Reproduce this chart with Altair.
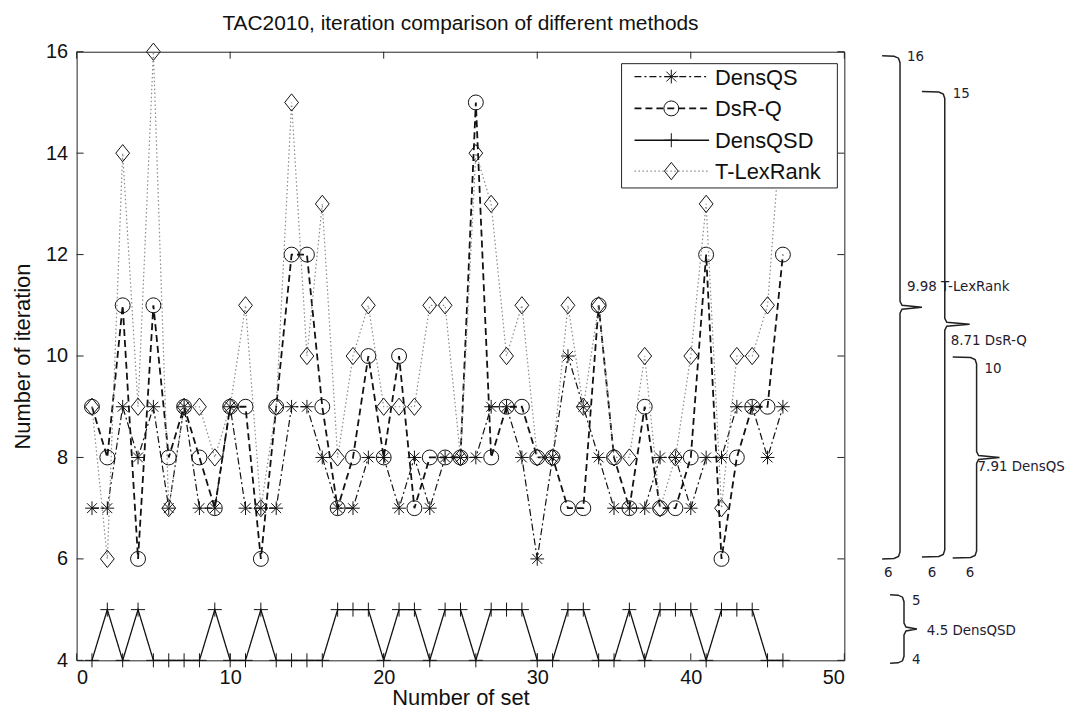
import altair as alt
import pandas as pd

# ---------------- data ----------------
sets = list(range(1, 47))
dens_qs = [7, 7, 9, 8, 9, 7, 9, 7, 7, 9,
           7, 7, 7, 9, 9, 8, 7, 7, 8, 8,
           7, 8, 7, 8, 8, 8, 9, 9, 8, 6,
           8, 10, 9, 8, 7, 7, 7, 8, 8, 7,
           8, 8, 9, 9, 8, 9]
dsr_q = [9, 8, 11, 6, 11, 8, 9, 8, 7, 9,
         9, 6, 9, 12, 12, 9, 7, 8, 10, 8,
         10, 7, 8, 8, 8, 15, 8, 9, 9, 8,
         8, 7, 7, 11, 8, 7, 9, 7, 7, 8,
         12, 6, 8, 9, 9, 12]
dens_qsd = [4, 5, 4, 5, 4, 4, 4, 4, 5, 4,
            4, 5, 4, 4, 4, 4, 5, 5, 5, 4,
            5, 5, 4, 5, 5, 4, 5, 5, 5, 4,
            4, 5, 5, 4, 4, 5, 4, 5, 5, 5,
            4, 5, 5, 5, 4, 4]
t_lexrank = [9, 6, 14, 9, 16, 7, 9, 9, 8, 9,
             11, 7, 9, 15, 10, 13, 8, 10, 11, 9,
             9, 9, 11, 11, 8, 14, 13, 10, 11, 8,
             8, 11, 9, 11, 8, 8, 10, 7, 8, 10,
             13, 7, 10, 10, 11, 15]
series_names = ["DensQS", "DsR-Q", "DensQSD", "T-LexRank"]
series_values = [dens_qs, dsr_q, dens_qsd, t_lexrank]
x_ticks = [0, 10, 20, 30, 40, 50]
y_ticks = [4, 6, 8, 10, 12, 14, 16]

# annotation on the right (text only)
brace_top_labels = ["16", "15", "10", "5"]
brace_mid_labels = ["9.98 T-LexRank", "8.71 DsR-Q", "7.91 DensQS", "4.5 DensQSD"]
brace_bottom_labels = ["6", "6", "6", "4"]

# ---------------- layout / style ----------------
W, H = 772, 612
OX, OY = 77, 50  # page position of the plot origin
FONT = "Liberation Sans"

ASTERISK = "M-1,0L1,0M0,-1L0,1M-0.72,-0.72L0.72,0.72M-0.72,0.72L0.72,-0.72"
PLUS = "M-1,0L1,0M0,-1L0,1"
DIAMOND = "M0,-1L0.8,0L0,1L-0.8,0Z"

styles = {
    "DensQS": dict(dash=[7, 3, 2, 3], width=1.2, color="#111111", shape=ASTERISK, size=190),
    "DsR-Q": dict(dash=[7, 4], width=1.8, color="#111111", shape="circle", size=225),
    "DensQSD": dict(dash=[1, 0], width=1.3, color="#111111", shape=PLUS, size=200),
    "T-LexRank": dict(dash=[1.5, 2.5], width=1.2, color="#8a8a8a", shape=DIAMOND, size=300),
}

xs = alt.Scale(domain=[0, 50], nice=False, zero=False)
ys = alt.Scale(domain=[4, 16], nice=False, zero=False)

x_axis = alt.Axis(values=x_ticks, ticks=False, domain=False, grid=False, format="d",
                  labelFont=FONT, labelFontSize=20, labelColor="#111", labelPadding=7,
                  title="Number of set", titleFont=FONT, titleFontSize=22,
                  titleFontWeight="normal", titleColor="#111", titlePadding=0)
y_axis = alt.Axis(values=y_ticks, ticks=False, domain=False, grid=False, format="d",
                  labelFont=FONT, labelFontSize=20, labelColor="#111", labelPadding=9,
                  title="Number of iteration", titleFont=FONT, titleFontSize=22,
                  titleFontWeight="normal", titleColor="#111", titlePadding=11)

X = lambda f: alt.X(f, scale=xs, axis=x_axis)
Y = lambda f: alt.Y(f, scale=ys, axis=y_axis)

layers = []
for name, vals in zip(series_names, series_values):
    st = styles[name]
    df = pd.DataFrame({"set": sets, "iter": vals})
    base = alt.Chart(df).encode(x=X("set:Q"), y=Y("iter:Q"))
    layers.append(base.mark_line(stroke=st["color"], strokeWidth=st["width"],
                                 strokeDash=st["dash"], clip=False))
    layers.append(base.mark_point(shape=st["shape"], size=st["size"], filled=False,
                                  stroke="#111111", strokeWidth=1, opacity=1, clip=False))

# inward ticks on all four sides
ydf = pd.DataFrame({"v": y_ticks})
xdf = pd.DataFrame({"v": x_ticks})
tick_style = dict(color="#222", strokeWidth=1)
layers.append(alt.Chart(ydf).mark_rule(**tick_style).encode(
    y=Y("v:Q"), x=alt.value(0), x2=alt.value(7)))
layers.append(alt.Chart(ydf).mark_rule(**tick_style).encode(
    y=Y("v:Q"), x=alt.value(W - 7), x2=alt.value(W)))
layers.append(alt.Chart(xdf).mark_rule(**tick_style).encode(
    x=X("v:Q"), y=alt.value(H), y2=alt.value(H - 7)))
layers.append(alt.Chart(xdf).mark_rule(**tick_style).encode(
    x=X("v:Q"), y=alt.value(0), y2=alt.value(7)))

# legend box (decoration in pixel space)
one = pd.DataFrame({"a": [0]})
layers.append(alt.Chart(one).mark_rect(fill="white", stroke="#222", strokeWidth=1).encode(
    x=alt.value(548), x2=alt.value(765), y=alt.value(12), y2=alt.value(137)))
leg_y = [25, 57, 89, 120]
for name, ly in zip(series_names, leg_y):
    st = styles[name]
    layers.append(alt.Chart(one).mark_rule(color=st["color"], strokeWidth=st["width"],
                                           strokeDash=st["dash"]).encode(
        x=alt.value(561), x2=alt.value(636), y=alt.value(ly)))
    layers.append(alt.Chart(one).mark_point(shape=st["shape"], size=st["size"], filled=False,
                                            stroke="#111111", strokeWidth=1, opacity=1).encode(
        x=alt.value(598), y=alt.value(ly)))
    layers.append(alt.Chart(one).mark_text(text=name, align="left", baseline="middle",
                                           font=FONT, fontSize=22, color="#111").encode(
        x=alt.value(642), y=alt.value(ly + 1)))

# braces on the right (page coordinates -> plot coordinates)
brace_geo = [  # xl, xc, xn, yt, yb
    (887, 905, 927, 54, 560),
    (927, 950, 975, 90, 558),
    (958, 982, 1005, 357, 559),
    (895, 909, 922, 596, 665),
]
rows = []
for b, (xl, xc, xn, yt, yb) in enumerate(brace_geo):
    ym = (yt + yb) / 2
    pts = [(xl, yt), (xc - 6, yt + 0.5), (xc - 1.5, yt + 2.5), (xc, yt + 7),
           (xc, ym - 6), (xc + 2, ym - 2), (xn, ym), (xc + 2, ym + 2), (xc, ym + 6),
           (xc, yb - 7), (xc - 1.5, yb - 2.5), (xc - 6, yb - 0.5), (xl, yb)]
    for k, (px, py) in enumerate(pts):
        rows.append({"b": b, "k": k, "px": px - OX, "py": py - OY})
bdf = pd.DataFrame(rows)
layers.append(alt.Chart(bdf).mark_line(color="#222", strokeWidth=1.5, clip=False).encode(
    x=alt.X("px:Q", scale=None, axis=None), y=alt.Y("py:Q", scale=None, axis=None),
    detail="b:N", order="k:Q"))

label_pos = (
    [(912, 55), (958, 93), (990, 369), (917, 602)]
    + [(912, 287), (956, 341), (983, 468), (932, 633)]
    + [(889, 574), (933, 574), (971, 574), (917, 662)]
)
labels = brace_top_labels + brace_mid_labels + brace_bottom_labels
tdf = pd.DataFrame({"label": labels,
                    "px": [p[0] - OX for p in label_pos],
                    "py": [p[1] - OY for p in label_pos]})
layers.append(alt.Chart(tdf).mark_text(align="left", baseline="middle", font="DejaVu Sans",
                                       fontSize=13.5, color="#1f2030").encode(
    x=alt.X("px:Q", scale=None, axis=None), y=alt.Y("py:Q", scale=None, axis=None),
    text="label:N"))

chart = alt.layer(*layers).properties(
    width=W, height=H,
    background="white",
    title=alt.TitleParams("TAC2010, iteration comparison of different methods",
                          font=FONT, fontSize=21, fontWeight="normal", color="#111",
                          anchor="middle", offset=7),
    padding={"left": OX - 8, "top": OY - 8, "right": 240, "bottom": 52},
    autosize=alt.AutoSizeParams(type="none"),
).configure_view(stroke="#222", strokeWidth=1)

chart.save("out.html", embed_options={"renderer": "svg", "actions": False})
